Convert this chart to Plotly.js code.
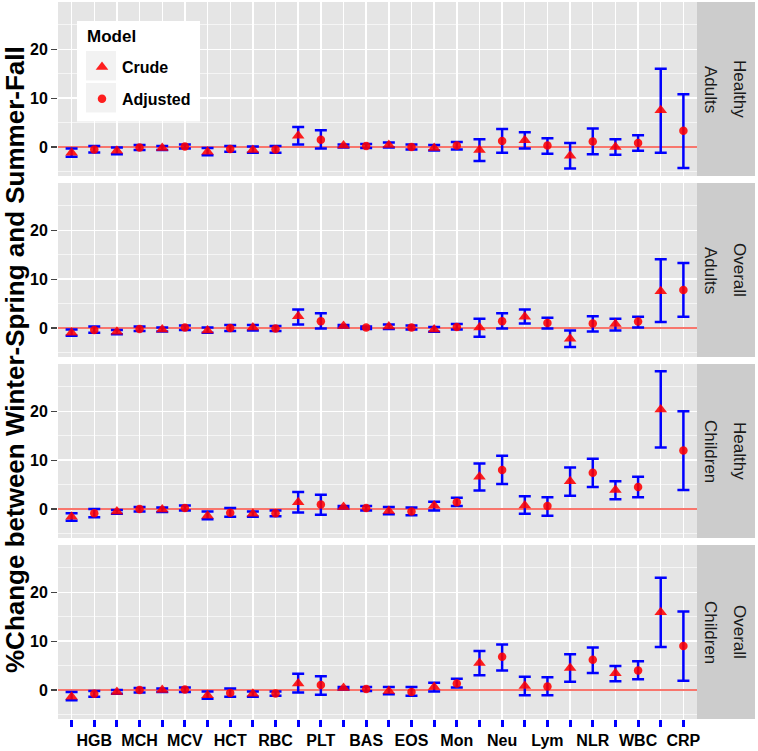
<!DOCTYPE html>
<html>
<head>
<meta charset="utf-8">
<script src="https://cdn.plot.ly/plotly-3.0.1.min.js"></script>
<style>html,body{margin:0;padding:0;background:#fff;}#chart{width:758px;height:751px;}</style>
</head>
<body>
<div id="chart"></div>
<script>
// ---- categories (each has a Crude and an Adjusted estimate) ----
const categories = ['HGB','MCH','MCV','HCT','RBC','PLT','BAS','EOS','Mon','Neu','Lym','NLR','WBC','CRP'];
const panelRows = ['Healthy Adults','Overall Adults','Healthy Children','Overall Children'];
const stripOuter = ['Healthy','Overall','Healthy','Overall'];
const stripInner = ['Adults','Adults','Children','Children'];
const yTicks = [0, 10, 20];

// ---- Healthy Adults ----
const haCrude   = [-1.2,-0.8,-0.2,-1.0,-0.6, 2.3, 0.3, 0.4,-0.2,-0.6, 1.4,-1.8, 0.0, 7.5];
const haCrudeLo = [-2.0,-1.5,-0.6,-1.7,-1.2, 0.5,-0.1,-0.1,-0.7,-2.9,-0.3,-4.4,-1.6,-1.2];
const haCrudeHi = [-0.3,-0.1, 0.2,-0.2, 0.1, 4.1, 0.5, 0.9, 0.4, 1.6, 3.0, 0.8, 1.6,16.0];
const haAdj     = [-0.5,-0.1, 0.1,-0.4,-0.5, 1.5, 0.2, 0.0, 0.3, 1.2, 0.3, 1.1, 0.8, 3.3];
const haAdjLo   = [-1.15,-0.6,-0.3,-1.0,-1.2,-0.3,-0.2,-0.5,-0.5,-1.2,-1.4,-1.5,-0.8,-4.3];
const haAdjHi   = [ 0.2, 0.4, 0.5, 0.2, 0.2, 3.4, 0.6, 0.5, 1.0, 3.7, 1.8, 3.8, 2.4,10.8];

// ---- Overall Adults ----
const oaCrude   = [-1.0,-0.8,-0.3,-0.5, 0.1, 2.4, 0.4, 0.3,-0.3, 0.1, 2.3,-2.2, 0.8, 7.5];
const oaCrudeLo = [-1.6,-1.3,-0.7,-1.0,-0.5, 0.7, 0.1,-0.2,-0.8,-1.8, 0.9,-3.9,-0.5, 1.2];
const oaCrudeHi = [-0.3,-0.4, 0.1, 0.1, 0.6, 3.8, 0.6, 0.7, 0.2, 1.9, 3.8,-0.5, 1.9,14.1];
const oaAdj     = [-0.4,-0.2, 0.1, 0.0,-0.1, 1.4, 0.1, 0.1, 0.2, 1.4, 1.0, 0.9, 1.3, 7.8];
const oaAdjLo   = [-1.0,-0.6,-0.4,-0.6,-0.6,-0.1,-0.2,-0.3,-0.3,-0.1,-0.1,-0.7, 0.1, 2.3];
const oaAdjHi   = [ 0.3, 0.3, 0.5, 0.6, 0.4, 3.0, 0.3, 0.5, 0.8, 3.0, 2.1, 2.4, 2.3,13.3];

// ---- Healthy Children ----
const hcCrude   = [-1.6,-0.5,-0.1,-1.4,-1.0, 1.4, 0.4,-0.4, 0.7, 6.6, 0.7, 5.7, 3.9,20.4];
const hcCrudeLo = [-2.4,-1.0,-0.6,-2.1,-1.6,-0.7, 0.1,-1.1,-0.3, 3.8,-1.0, 2.7, 2.0,12.6];
const hcCrudeHi = [-0.9,-0.2, 0.3,-0.5,-0.5, 3.5, 0.6, 0.4, 1.5, 9.3, 2.6, 8.5, 5.7,28.2];
const hcAdj     = [-0.9, 0.0, 0.2,-0.8,-0.9, 0.9, 0.2,-0.5, 1.4, 8.0, 0.6, 7.4, 4.5,12.0];
const hcAdjLo   = [-1.7,-0.5,-0.3,-1.6,-1.5,-1.2,-0.3,-1.3, 0.6, 5.1,-1.4, 4.5, 2.4, 3.9];
const hcAdjHi   = [ 0.0, 0.4, 0.7, 0.2,-0.3, 2.9, 0.6, 0.3, 2.3,10.9, 2.4,10.3, 6.6,20.0];

// ---- Overall Children ----
const ocCrude   = [-1.4,-0.4, 0.0,-1.1,-0.8, 1.3, 0.4,-0.2, 0.6, 5.5, 0.8, 4.5, 3.4,15.9];
const ocCrudeLo = [-2.1,-0.8,-0.4,-1.8,-1.4,-0.5, 0.1,-0.9,-0.3, 3.0,-1.1, 1.7, 1.8, 8.8];
const ocCrudeHi = [-0.4, 0.0, 0.3,-0.3,-0.3, 3.3, 0.6, 0.6, 1.5, 8.0, 2.7, 7.3, 4.9,23.0];
const ocAdj     = [-0.8, 0.0, 0.1,-0.6,-0.7, 1.0, 0.2,-0.4, 1.3, 6.8, 0.7, 6.2, 4.0, 9.0];
const ocAdjLo   = [-1.4,-0.5,-0.4,-1.4,-1.2,-1.0,-0.2,-1.2, 0.5, 4.0,-1.1, 3.5, 2.2, 1.9];
const ocAdjHi   = [-0.2, 0.4, 0.5, 0.3,-0.3, 2.8, 0.6, 0.6, 2.3, 9.3, 2.6, 8.7, 5.9,16.1];

const panels = [
  {crude: haCrude, cLo: haCrudeLo, cHi: haCrudeHi, adj: haAdj, aLo: haAdjLo, aHi: haAdjHi},
  {crude: oaCrude, cLo: oaCrudeLo, cHi: oaCrudeHi, adj: oaAdj, aLo: oaAdjLo, aHi: oaAdjHi},
  {crude: hcCrude, cLo: hcCrudeLo, cHi: hcCrudeHi, adj: hcAdj, aLo: hcAdjLo, aHi: hcAdjHi},
  {crude: ocCrude, cLo: ocCrudeLo, cHi: ocCrudeHi, adj: ocAdj, aLo: ocAdjLo, aHi: ocAdjHi}
];

// ---- geometry ----
const W = 758, H = 751;
const M = {l: 58, r: 61, t: 2, b: 32};
const PW = W - M.l - M.r, PH = H - M.t - M.b;
const px2x = p => (p - M.l) / PW;
const px2y = p => 1 - (p - M.t) / PH;
const panelH = 174, gap = 7;
const yIds = ['y4','y3','y2','y'];      // top -> bottom
const yNames = ['yaxis4','yaxis3','yaxis2','yaxis'];

const FONT = 'Liberation Sans, Arial, sans-serif';
const crudeX = categories.map((c, i) => 2 * i + 1);
const adjX = categories.map((c, i) => 2 * i + 2);
const tickVals = [], tickText = [];
categories.forEach((c, i) => { tickVals.push(2*i+1, 2*i+2); tickText.push('', c); });

const traces = [];
panels.forEach((p, k) => {
  traces.push({
    type: 'scatter', mode: 'markers', name: 'Crude', legendgroup: 'crude',
    showlegend: k === 0, x: crudeX, y: p.crude, xaxis: 'x', yaxis: yIds[k],
    marker: {symbol: 'triangle-up', size: 11, color: '#FF0000', opacity: 0.88},
    error_y: {type: 'data', symmetric: false,
      array: p.crude.map((v, i) => p.cHi[i] - v),
      arrayminus: p.crude.map((v, i) => v - p.cLo[i]),
      color: '#0000FF', thickness: 2.5, width: 6}
  });
  traces.push({
    type: 'scatter', mode: 'markers', name: 'Adjusted', legendgroup: 'adj',
    showlegend: k === 0, x: adjX, y: p.adj, xaxis: 'x', yaxis: yIds[k],
    marker: {symbol: 'circle', size: 8.5, color: '#FF0000', opacity: 0.88},
    error_y: {type: 'data', symmetric: false,
      array: p.adj.map((v, i) => p.aHi[i] - v),
      arrayminus: p.adj.map((v, i) => v - p.aLo[i]),
      color: '#0000FF', thickness: 2.5, width: 6}
  });
});

const layout = {
  width: W, height: H, margin: M,
  paper_bgcolor: '#FFFFFF', plot_bgcolor: '#E5E5E5',
  font: {family: FONT, color: '#000'},
  showlegend: true,
  legend: {
    x: px2x(82), y: px2y(50), xanchor: 'left', yanchor: 'top',
    bgcolor: 'rgba(0,0,0,0)', borderwidth: 0,
    font: {family: FONT, size: 16, weight: 'bold', color: '#000'},
    traceorder: 'grouped', tracegroupgap: 8
  },
  xaxis: {
    anchor: 'y', range: [0.4, 28.6], tickmode: 'array', tickvals: tickVals, ticktext: tickText,
    ticks: 'outside', ticklen: 7, tickwidth: 3, tickcolor: '#0000FF',
    showgrid: true, gridcolor: '#FFFFFF', gridwidth: 1.4, zeroline: false, showline: false,
    tickfont: {family: FONT, size: 16, weight: 'bold', color: '#000'}
  },
  shapes: [], annotations: []
};

yNames.forEach((name, k) => {
  const top = M.t + k * (panelH + gap);
  layout[name] = {
    domain: [px2y(top + panelH), px2y(top)], anchor: 'x',
    range: [-5.95, 29.7], tickmode: 'array', tickvals: yTicks,
    ticks: 'outside', ticklen: 6, tickwidth: 1.2, tickcolor: '#444',
    showgrid: true, gridcolor: '#FFFFFF', gridwidth: 1.4,
    minor: {dtick: 5, tick0: 0, showgrid: true, gridcolor: '#FFFFFF', gridwidth: 0.6},
    zeroline: true, zerolinecolor: '#F8766D', zerolinewidth: 1.4, showline: false,
    tickfont: {family: FONT, size: 16, weight: 'bold', color: '#000'}
  };
  // strip
  layout.shapes.push({type: 'rect', xref: 'paper', yref: 'paper', layer: 'below',
    x0: 1, x1: px2x(755), y0: px2y(top + panelH), y1: px2y(top),
    fillcolor: '#CCCCCC', line: {width: 0}});
  const yc = px2y(top + panelH / 2);
  layout.annotations.push({xref: 'paper', yref: 'paper', x: px2x(711), y: yc, text: stripInner[k],
    showarrow: false, textangle: 90, xanchor: 'center', yanchor: 'middle',
    font: {family: FONT, size: 17, color: '#1A1A1A'}});
  layout.annotations.push({xref: 'paper', yref: 'paper', x: px2x(740), y: yc, text: stripOuter[k],
    showarrow: false, textangle: 90, xanchor: 'center', yanchor: 'middle',
    font: {family: FONT, size: 17, color: '#1A1A1A'}});
});

// legend background + key boxes + title
layout.shapes.push({type: 'rect', xref: 'paper', yref: 'paper', layer: 'above',
  x0: px2x(77), x1: px2x(200), y0: px2y(121.5), y1: px2y(21), fillcolor: '#FFFFFF', line: {width: 0}});
layout.shapes.push({type: 'rect', xref: 'paper', yref: 'paper', layer: 'above',
  x0: px2x(86), x1: px2x(116), y0: px2y(80.5), y1: px2y(51), fillcolor: '#F2F2F2', line: {width: 0}});
layout.shapes.push({type: 'rect', xref: 'paper', yref: 'paper', layer: 'above',
  x0: px2x(86), x1: px2x(116), y0: px2y(112.5), y1: px2y(83), fillcolor: '#F2F2F2', line: {width: 0}});
layout.annotations.push({xref: 'paper', yref: 'paper', x: px2x(85), y: px2y(36),
  text: 'Model', showarrow: false, xanchor: 'left', yanchor: 'middle',
  font: {family: FONT, size: 17, weight: 'bold', color: '#000'}});

// y-axis title
layout.annotations.push({xref: 'paper', yref: 'paper', x: px2x(15), y: px2y(360),
  text: '%Change between Winter-Spring and Summer-Fall', showarrow: false, textangle: -90,
  xanchor: 'center', yanchor: 'middle',
  font: {family: FONT, size: 26, weight: 'bold', color: '#000'}});

Plotly.newPlot('chart', traces, layout, {displayModeBar: false, staticPlot: true});
</script>
</body>
</html>
